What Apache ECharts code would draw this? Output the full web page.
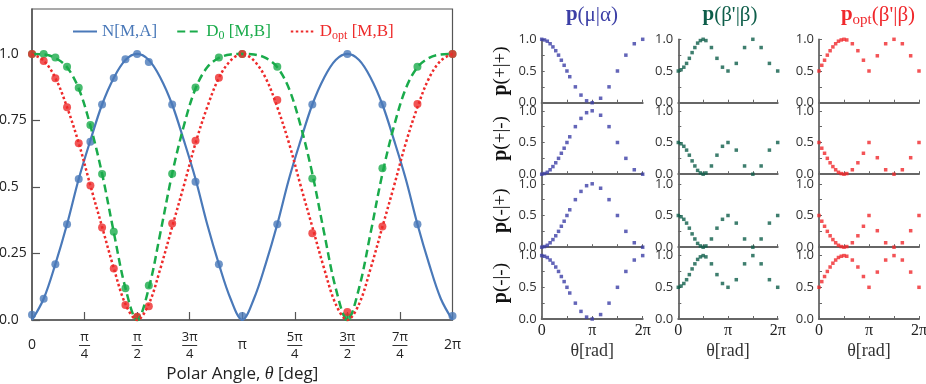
<!DOCTYPE html>
<html>
<head>
<meta charset="utf-8">
<script src="https://cdn.jsdelivr.net/npm/echarts@6.0.0/dist/echarts.min.js"></script>
<style>
  html, body { margin: 0; padding: 0; background: #fff; }
  #chart { width: 926px; height: 384px; }
</style>
</head>
<body>
<div id="chart"></div>
<script>
// ---- left panel data (angle in degrees) ----
const CURVE_DEG = [0, 10, 20, 30, 40, 50, 60, 70, 80, 90, 100, 110, 120, 130, 140, 150, 160, 170, 180,
  190, 200, 210, 220, 230, 240, 250, 260, 270, 280, 290, 300, 310, 320, 330, 340, 350, 360]
const N_CURVE = [0, 0.08, 0.21, 0.36, 0.53, 0.675, 0.81, 0.91, 0.977, 1.0, 0.977, 0.91, 0.81, 0.675, 0.53, 0.36, 0.21, 0.08, 0,
  0.08, 0.21, 0.36, 0.53, 0.675, 0.81, 0.91, 0.977, 1.0, 0.977, 0.91, 0.81, 0.675, 0.53, 0.36, 0.21, 0.08, 0]
const D0_CURVE = [1, 0.998, 0.985, 0.95, 0.87, 0.73, 0.55, 0.33, 0.12, 0, 0.12, 0.33, 0.55, 0.73, 0.87, 0.95, 0.985, 0.998, 1,
  0.998, 0.985, 0.95, 0.87, 0.73, 0.55, 0.33, 0.12, 0, 0.12, 0.33, 0.55, 0.73, 0.87, 0.95, 0.985, 0.998, 1]
const DOPT_CURVE = [1, 0.975, 0.91, 0.8, 0.665, 0.505, 0.35, 0.195, 0.06, 0, 0.06, 0.195, 0.35, 0.505, 0.665, 0.8, 0.91, 0.975, 1,
  0.975, 0.91, 0.8, 0.665, 0.505, 0.35, 0.195, 0.06, 0, 0.06, 0.195, 0.35, 0.505, 0.665, 0.8, 0.91, 0.975, 1]

const PTS_DEG = [0, 10, 20, 30, 40, 50, 60, 70, 80, 90, 100, 120, 140, 160, 180, 210, 240, 270, 300, 330, 360]
const N_PTS = [0.02, 0.08, 0.21, 0.36, 0.53, 0.67, 0.81, 0.91, 0.98, 1.0, 0.97, 0.81, 0.52, 0.21, 0.015, 0.36, 0.81, 1.0, 0.81, 0.36, 0.015]
const D0_PTS = [1.0, 1.0, 0.987, 0.952, 0.873, 0.733, 0.549, 0.332, 0.119, 0.01, 0.13, 0.55, 0.874, 0.987, 1.0, 0.952, 0.532, 0.01, 0.57, 0.952, 1.0]
const DOPT_PTS = [1.0, 0.974, 0.909, 0.8, 0.664, 0.506, 0.348, 0.194, 0.056, 0.012, 0.052, 0.363, 0.674, 0.911, 1.0, 0.827, 0.326, 0.03, 0.351, 0.812, 1.0]

const X_TICK_DEG = [0, 45, 90, 135, 180, 225, 270, 315, 360]
const X_TICKS = ['0', 'π/4', 'π/2', '3π/4', 'π', '5π/4', '3π/2', '7π/4', '2π']
const Y_TICKS = [0, 0.25, 0.5, 0.75, 1]

// ---- right panels: p(mu|alpha), p(beta'|beta), p_opt(beta'|beta) ----
const MU_PP = [1.0, 0.99, 0.97, 0.93, 0.88, 0.82, 0.75, 0.67, 0.59, 0.5, 0.41, 0.25, 0.12, 0.03, 0.0, 0.07, 0.25, 0.5, 0.75, 0.93, 1.0]
const MU_PM = [0.0, 0.01, 0.03, 0.07, 0.12, 0.18, 0.25, 0.33, 0.41, 0.5, 0.59, 0.75, 0.88, 0.97, 1.0, 0.93, 0.75, 0.5, 0.25, 0.07, 0.0]
const MU_MP = [0.0, 0.01, 0.03, 0.07, 0.12, 0.18, 0.25, 0.33, 0.41, 0.5, 0.59, 0.75, 0.88, 0.97, 1.0, 0.93, 0.75, 0.5, 0.25, 0.07, 0.0]
const MU_MM = [1.0, 0.99, 0.97, 0.93, 0.88, 0.82, 0.75, 0.67, 0.59, 0.5, 0.41, 0.25, 0.12, 0.03, 0.0, 0.07, 0.25, 0.5, 0.75, 0.93, 1.0]

const BETA_PP = [0.5, 0.52, 0.56, 0.62, 0.7, 0.79, 0.87, 0.94, 0.98, 1.0, 0.98, 0.87, 0.7, 0.56, 0.5, 0.62, 0.87, 1.0, 0.87, 0.62, 0.5]
const BETA_PM = [0.5, 0.48, 0.44, 0.38, 0.3, 0.21, 0.13, 0.06, 0.02, 0.0, 0.02, 0.13, 0.3, 0.44, 0.5, 0.38, 0.13, 0.0, 0.13, 0.38, 0.5]
const BETA_MP = [0.5, 0.48, 0.44, 0.38, 0.3, 0.21, 0.13, 0.06, 0.02, 0.0, 0.02, 0.13, 0.3, 0.44, 0.5, 0.38, 0.13, 0.0, 0.13, 0.38, 0.5]
const BETA_MM = [0.5, 0.52, 0.56, 0.62, 0.7, 0.79, 0.87, 0.94, 0.98, 1.0, 0.98, 0.87, 0.7, 0.56, 0.5, 0.62, 0.87, 1.0, 0.87, 0.62, 0.5]

const OPT_PP = [0.5, 0.59, 0.67, 0.75, 0.82, 0.88, 0.93, 0.97, 0.99, 1.0, 0.99, 0.93, 0.82, 0.67, 0.5, 0.74, 0.93, 1.0, 0.93, 0.74, 0.5]
const OPT_PM = [0.5, 0.41, 0.33, 0.25, 0.18, 0.12, 0.07, 0.03, 0.01, 0.0, 0.01, 0.07, 0.18, 0.33, 0.5, 0.26, 0.07, 0.0, 0.07, 0.26, 0.5]
const OPT_MP = [0.5, 0.41, 0.33, 0.25, 0.18, 0.12, 0.07, 0.03, 0.01, 0.0, 0.01, 0.07, 0.18, 0.33, 0.5, 0.26, 0.07, 0.0, 0.07, 0.26, 0.5]
const OPT_MM = [0.5, 0.59, 0.67, 0.75, 0.82, 0.88, 0.93, 0.97, 0.99, 1.0, 0.99, 0.93, 0.82, 0.67, 0.5, 0.74, 0.93, 1.0, 0.93, 0.74, 0.5]

const SMALL_X_DEG = [0, 180, 360]
const SMALL_X_TICKS = ['0', 'π', '2π']
const SMALL_Y_LABELS = [0, 0.5, 1]
const ROW_NAMES = ['(+|+)', '(+|-)', '(-|+)', '(-|-)']

const zip = (xs, ys) => xs.map((x, i) => [x, ys[i]])

const BLUE = '#4a79b9', GREEN = '#1aab4b', RED = '#ee2a2a'
const COL_COLORS = ['#3c3fa6', '#0e5e4a', '#f0282c']
const COL_DATA = [
  [MU_PP, MU_PM, MU_MP, MU_MM],
  [BETA_PP, BETA_PM, BETA_MP, BETA_MM],
  [OPT_PP, OPT_PM, OPT_MP, OPT_MM],
]

const myChart = echarts.init(document.getElementById('chart'))

function fracLabel(v) {
  const i = X_TICK_DEG.indexOf(v)
  if (i < 0) return ''
  const t = X_TICKS[i]
  if (t.indexOf('/') < 0) return '{m|' + t + '}'
  const parts = t.split('/')
  return '{n|' + parts[0] + '}\n{' + (parts[0].length > 1 ? 'L' : 'l') + '| }\n{d|' + parts[1] + '}'
}

const grids = [{ left: 32, top: 9, width: 420.5, height: 311, show: true, borderColor: '#555', borderWidth: 1.2, outerBoundsMode: 'none' }]
const xAxes = [{
  type: 'value', gridIndex: 0, min: 0, max: 360, interval: 45,
  axisLine: { lineStyle: { color: '#555', width: 1.5 } },
  axisTick: { inside: true, length: 8, lineStyle: { color: '#555', width: 1.2 } },
  splitLine: { show: false },
  axisLabel: {
    margin: 10, color: '#222', fontFamily: 'Open Sans', formatter: fracLabel,
    rich: {
      n: { fontSize: 13, lineHeight: 14, fontFamily: 'Open Sans', color: '#222' },
      d: { fontSize: 13, lineHeight: 14, fontFamily: 'Open Sans', color: '#222' },
      l: { width: 11, height: 1, lineHeight: 3, backgroundColor: '#333' },
      L: { width: 15, height: 1, lineHeight: 3, backgroundColor: '#333' },
      m: { fontSize: 14, lineHeight: 31, fontFamily: 'Open Sans', color: '#222' },
    },
  },
  name: '{a|Polar Angle, }{t|θ}{a| [deg]}', nameLocation: 'middle', nameGap: 43,
  nameTextStyle: {
    rich: {
      a: { fontSize: 17, fontFamily: 'Open Sans', color: '#222' },
      t: { fontSize: 18, fontFamily: 'Liberation Serif', fontStyle: 'italic', color: '#222' },
    },
  },
}]
const yAxes = [{
  type: 'value', gridIndex: 0, min: 0, max: 1.169,
  axisLine: { show: true, lineStyle: { color: '#555', width: 1.5 } },
  axisTick: { show: true, inside: true, length: 8, customValues: Y_TICKS, lineStyle: { color: '#555', width: 1.2 } },
  splitLine: { show: false },
  axisLabel: {
    customValues: Y_TICKS, align: 'left', margin: 33, fontSize: 14, fontFamily: 'Open Sans', color: '#222',
    formatter: (v) => (v === 0 ? '0.0' : v === 1 ? '1.0' : String(v)),
  },
}]

const series = [
  { name: 'N[M,A]', type: 'line', xAxisIndex: 0, yAxisIndex: 0, data: zip(CURVE_DEG, N_CURVE), smooth: 0.35,
    symbol: 'none', color: BLUE, lineStyle: { width: 2.2, color: BLUE } },
  { name: 'D0 [M,B]', type: 'line', xAxisIndex: 0, yAxisIndex: 0, data: zip(CURVE_DEG, D0_CURVE), smooth: 0.35,
    symbol: 'none', color: GREEN, lineStyle: { width: 2.5, color: GREEN, type: [8, 4.5] } },
  { name: 'Dopt [M,B]', type: 'line', xAxisIndex: 0, yAxisIndex: 0, data: zip(CURVE_DEG, DOPT_CURVE), smooth: 0.35,
    symbol: 'none', color: RED, lineStyle: { width: 2.5, color: RED, type: [2.5, 2.5] } },
  { name: 'N pts', type: 'scatter', xAxisIndex: 0, yAxisIndex: 0, data: zip(PTS_DEG, N_PTS), symbol: 'circle', symbolSize: 8, itemStyle: { color: BLUE } },
  { name: 'D0 pts', type: 'scatter', xAxisIndex: 0, yAxisIndex: 0, data: zip(PTS_DEG, D0_PTS), symbol: 'circle', symbolSize: 8, itemStyle: { color: GREEN } },
  { name: 'Dopt pts', type: 'scatter', xAxisIndex: 0, yAxisIndex: 0, data: zip(PTS_DEG, DOPT_PTS), symbol: 'circle', symbolSize: 8, itemStyle: { color: RED } },
]

// small multiples
const COL_LEFT = [541.7, 678.3, 819]
const COL_WIDTH = [101, 99.4, 100]
const ROW_BOTTOM = [102.7, 174.2, 247.2, 319]
const UNIT = 63.4
for (let c = 0; c < 3; c++) {
  for (let r = 0; r < 4; r++) {
    const idx = grids.length
    const top = r === 0 ? ROW_BOTTOM[0] - UNIT : ROW_BOTTOM[r - 1]
    const h = ROW_BOTTOM[r] - top
    grids.push({ left: COL_LEFT[c], top: top, width: COL_WIDTH[c], height: h, outerBoundsMode: 'none' })
    const last = r === 3
    xAxes.push({
      type: 'value', gridIndex: idx, min: 0, max: 360, interval: 90,
      axisLine: { lineStyle: { color: '#666', width: 2 } },
      axisTick: { inside: true, length: 3, lineStyle: { color: '#666' } },
      splitLine: { show: false },
      axisLabel: {
        show: last, margin: 4, fontSize: 16, fontFamily: 'Liberation Serif', color: '#222',
        formatter: (v) => { const i = SMALL_X_DEG.indexOf(v); return i < 0 ? '' : SMALL_X_TICKS[i] },
      },
      name: last ? 'θ[rad]' : '', nameLocation: 'middle', nameGap: 23,
      nameTextStyle: { fontSize: 18, fontFamily: 'Liberation Serif', color: '#333' },
    })
    yAxes.push({
      type: 'value', gridIndex: idx, min: 0, max: h / UNIT,
      axisLine: { show: true, lineStyle: { color: '#666', width: 1.8 } },
      axisTick: { show: true, inside: true, length: 3, customValues: Y_TICKS, lineStyle: { color: '#666' } },
      splitLine: { show: false },
      axisLabel: {
        customValues: SMALL_Y_LABELS, margin: 5, fontSize: 13, fontFamily: 'Open Sans', color: '#333',
        formatter: (v) => v.toFixed(1),
      },
      name: c === 0 ? '{b|p}{n|' + ROW_NAMES[r] + '}' : '', nameLocation: 'middle', nameRotate: 90, nameGap: 31,
      nameTextStyle: {
        rich: {
          b: { fontSize: 20, fontWeight: 'bold', fontFamily: 'Liberation Serif', color: '#111' },
          n: { fontSize: 19, fontFamily: 'Liberation Serif', color: '#111' },
        },
      },
    })
    series.push({
      type: 'scatter', xAxisIndex: idx, yAxisIndex: idx, data: zip(PTS_DEG, COL_DATA[c][r]),
      symbol: 'rect', symbolSize: 3.5, itemStyle: { color: COL_COLORS[c] }, silent: true,
    })
  }
}

const titleRich = (color) => ({
  b: { fontSize: 21, fontWeight: 'bold', fontFamily: 'Liberation Serif', fill: color },
  n: { fontSize: 21, fontFamily: 'Liberation Serif', fill: color },
  s: { fontSize: 15, fontFamily: 'Liberation Serif', fill: color, padding: [10, 0, 0, 0] },
})

const option = {
  animation: false,
  grid: grids,
  xAxis: xAxes,
  yAxis: yAxes,
  series: series,
  legend: {
    left: 67, top: 18, itemWidth: 24, itemHeight: 10, itemGap: 19,
    itemStyle: { color: 'rgba(0,0,0,0)', borderColor: 'rgba(0,0,0,0)', borderWidth: 0 },
    data: [
      { name: 'N[M,A]', textStyle: { color: BLUE } },
      { name: 'D0 [M,B]', textStyle: { color: GREEN } },
      { name: 'Dopt [M,B]', textStyle: { color: RED } },
    ],
    formatter: (name) => {
      if (name === 'D0 [M,B]') return '{m|D}{s|0}{m| [M,B]}'
      if (name === 'Dopt [M,B]') return '{m|D}{s|opt}{m| [M,B]}'
      return '{m|' + name + '}'
    },
    textStyle: {
      fontFamily: 'Liberation Serif', fontSize: 17,
      rich: {
        m: { fontSize: 17, fontFamily: 'Liberation Serif' },
        s: { fontSize: 12, fontFamily: 'Liberation Serif', padding: [9, 0, 0, 0] },
      },
    },
  },
  graphic: [
    { type: 'text', x: 592, y: 15, style: { text: '{b|p}{n|(μ|α)}', rich: titleRich(COL_COLORS[0]), align: 'center', verticalAlign: 'middle' } },
    { type: 'text', x: 730, y: 15, style: { text: "{b|p}{n|(β'|β)}", rich: titleRich(COL_COLORS[1]), align: 'center', verticalAlign: 'middle' } },
    { type: 'text', x: 878, y: 15, style: { text: "{b|p}{s|opt}{n|(β'|β)}", rich: titleRich(COL_COLORS[2]), align: 'center', verticalAlign: 'middle' } },
  ],
}

myChart.setOption(option)
</script>
</body>
</html>
